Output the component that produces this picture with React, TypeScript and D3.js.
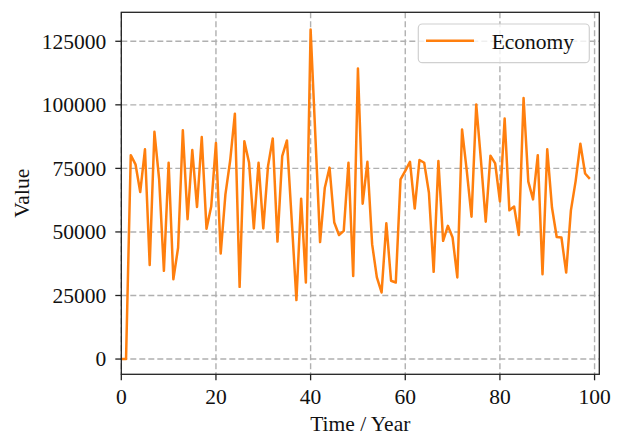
import React from "react";
import * as d3 from "d3";

const years: number[] = Array.from({ length: 100 }, (_, i) => i);
const economy: number[] = [
  0, 0, 80200, 76600, 65700, 82500, 37000, 89400, 70700, 34700,
  77200, 31400, 43800, 90000, 55000, 82200, 59800, 87300, 51300, 60000,
  85000, 41500, 64800, 78000, 96500, 28400, 85700, 77200, 51400, 77200,
  51400, 75900, 86800, 46200, 79800, 86000, 55000, 23200, 63100, 30100,
  129600, 88000, 46000, 67400, 75300, 53700, 48800, 50400, 77200, 32700,
  114300, 61100, 77600, 45200, 32100, 26200, 53400, 30800, 30100, 70700,
  74000, 77600, 59200, 78300, 77200, 65400, 34300, 77900, 46500, 52400,
  47800, 32100, 90300, 74000, 56000, 100100, 78000, 54000, 80000, 77000,
  62000, 94600, 58500, 60000, 48800, 102700, 69800, 62800, 80200, 33400,
  82500, 59600, 48000, 47800, 34000, 58500, 70000, 84700, 73000, 70900,
];
const xTicks: number[] = [0, 20, 40, 60, 80, 100];
const yTicks: number[] = [0, 25000, 50000, 75000, 100000, 125000];
const seriesName = "Economy";
const xLabel = "Time / Year";
const yLabel = "Value";

const W = 621;
const H = 437;
const L = 121.3, R = 599.3, T = 12.3, B = 374.3;
const FONT = "'Liberation Serif', 'Times New Roman', serif";
const FS = 21.5;

export default function App() {
  const x = d3.scaleLinear().domain([0, 101]).range([L, R]);
  const y = d3.scaleLinear().domain([-6000, 136400]).range([B, T]);
  const line = d3
    .line<number>()
    .x((_, i) => x(years[i]))
    .y((d) => y(d));
  const path = line(economy) || "";
  const gridStyle = { stroke: "#b0b0b0", strokeWidth: 1.4, strokeDasharray: "6,3" };
  return (
    <svg
      width={W}
      height={H}
      style={{ position: "absolute", left: 0, top: 0, background: "#fff" }}
      fontFamily={FONT}
    >
      <defs>
        <clipPath id="plot">
          <rect x={L} y={T} width={R - L} height={B - T} />
        </clipPath>
      </defs>
      {xTicks.map((t) => (
        <line key={"gx" + t} x1={x(t)} x2={x(t)} y1={T} y2={B} {...gridStyle} />
      ))}
      {yTicks.map((t) => (
        <line key={"gy" + t} x1={L} x2={R} y1={y(t)} y2={y(t)} {...gridStyle} />
      ))}
      <path
        d={path}
        fill="none"
        stroke="#ff7f0e"
        strokeWidth={2.5}
        strokeLinejoin="round"
        clipPath="url(#plot)"
      />
      <rect x={L} y={T} width={R - L} height={B - T} fill="none" stroke="#222" strokeWidth={1.3} />
      {xTicks.map((t) => (
        <g key={"xt" + t}>
          <line x1={x(t)} x2={x(t)} y1={B} y2={B + 6} stroke="#222" strokeWidth={1.3} />
          <text x={x(t)} y={B + 30} textAnchor="middle" fontSize={FS} fill="#111">
            {t}
          </text>
        </g>
      ))}
      {yTicks.map((t) => (
        <g key={"yt" + t}>
          <line x1={L - 6} x2={L} y1={y(t)} y2={y(t)} stroke="#222" strokeWidth={1.3} />
          <text x={L - 15} y={y(t) + 7.3} textAnchor="end" fontSize={FS} fill="#111">
            {t}
          </text>
        </g>
      ))}
      <text x={(L + R) / 2} y={431} textAnchor="middle" fontSize={FS} fill="#111">
        {xLabel}
      </text>
      <text
        transform={`translate(29, ${(T + B) / 2}) rotate(-90)`}
        textAnchor="middle"
        fontSize={FS}
        fill="#111"
      >
        {yLabel}
      </text>
      <g>
        <rect
          x={418.3}
          y={24}
          width={171}
          height={38.7}
          rx={4}
          fill="#fff"
          fillOpacity={0.8}
          stroke="#d0d0d0"
          strokeWidth={1.2}
        />
        <line x1={426} x2={474} y1={40.7} y2={40.7} stroke="#ff7f0e" strokeWidth={2.5} />
        <text x={491.7} y={48.5} fontSize={FS} fill="#111">
          {seriesName}
        </text>
      </g>
    </svg>
  );
}
